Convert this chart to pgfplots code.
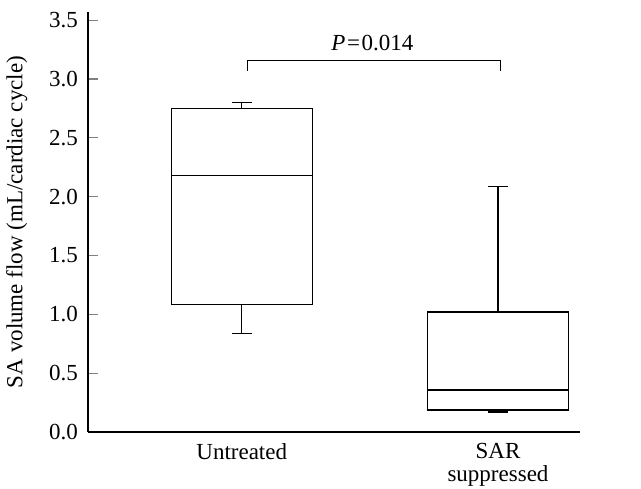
\documentclass[border=0pt]{standalone}
\usepackage{fontspec}
\setmainfont{Liberation Serif}
\usepackage{pgfplots}
\pgfplotsset{compat=1.18}
\usepgfplotslibrary{statistics}

\begin{document}
\begin{tikzpicture}
  \begin{axis}[
    name=ax,
    scale only axis,
    width=246pt, height=210pt,
    xmin=0.40, xmax=2.32,
    ymin=0, ymax=3.57,
    axis lines=left,
    axis line style={-, line width=0.6pt},
    xtick={1,2},
    xticklabels={Untreated, {SAR\\suppressed}},
    xticklabel style={align=center, yshift=-2pt, font=\fontsize{11.5}{11.5}\selectfont},
    major x tick style={draw=none},
    ytick={0,0.5,...,3.5},
    yticklabel style={xshift=-1.5pt, font=\fontsize{11.5}{12}\selectfont},
    tick align=inside,
    major tick length=5pt,
    ytick style={line width=0.6pt},
    /pgf/number format/assume math mode=true,
    /pgf/number format/.cd, fixed, fixed zerofill, precision=1,
    /pgfplots/.cd,
    ylabel={SA volume flow (mL/cardiac cycle)},
    ylabel style={yshift=4pt, font=\fontsize{11.5}{12}\selectfont},
    boxplot/draw direction=y,
    clip=false,
  ]
  \addplot[black, line width=0.55pt, boxplot prepared={
      draw position=1,
      lower whisker=0.84, lower quartile=1.08, median=2.18,
      upper quartile=2.75, upper whisker=2.80,
      box extend=0.55, whisker extend=0.08}]
    coordinates {};
  \addplot[black, line width=0.55pt, boxplot prepared={
      draw position=2,
      lower whisker=0.17, lower quartile=0.187, median=0.357,
      upper quartile=1.02, upper whisker=2.09,
      box extend=0.55, whisker extend=0.08}]
    coordinates {};
  % significance bracket
  \addplot[black, line width=0.55pt] coordinates {
    (1.023,3.07) (1.023,3.16) (2.008,3.16) (2.008,3.07)};
  \node[font=\fontsize{11.5}{12}\selectfont] at (axis cs:1.51,3.31)
    {\textit{P}\hspace{0.8pt}=\hspace{0.8pt}0.014};
  \end{axis}
  \pgfresetboundingbox
  \path (ax.south west) ++(-44pt,-28pt) rectangle ++(320.5pt,244pt);
\end{tikzpicture}
\end{document}
